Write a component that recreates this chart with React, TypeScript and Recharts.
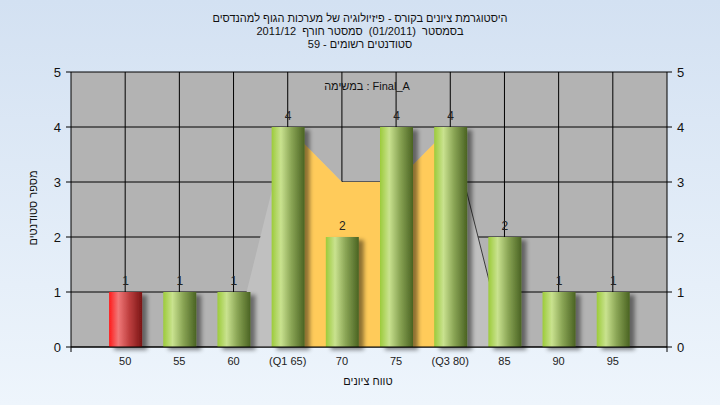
import React from 'react';
import {
    ComposedChart, Bar, Area, XAxis, YAxis, CartesianGrid, LabelList,
} from 'recharts';

// grade buckets and how many students landed in each
const grades = [50, 55, 60, 65, 70, 75, 80, 85, 90, 95];
const tickNames = ['50', '55', '60', '(Q1 65)', '70', '75', '(Q3 80)', '85', '90', '95'];
const counts = [1, 1, 1, 4, 2, 4, 4, 2, 1, 1];
// background shapes: spread (light gray) and quartile box (orange)
const spread = [null, null, 0.05, 4, 3, 3, 4, 0.1, null, null];
const box = [null, null, null, 4, 3, 3, 4, null, null, null];
const edge = [null, null, null, null, null, null, 4, 0.1, null, null];
const failing = [true, false, false, false, false, false, false, false, false, false];

const titleLines = [
    'היסטוגרמת ציונים בקורס - פיזיולוגיה של מערכות הגוף למהנדסים',
    'בסמסטר  (01/2011)  סמסטר חורף  2011/12',
    'סטודנטים רשומים - 59',
];

const FONT = '"Liberation Sans", Arial, sans-serif';

const chartData = grades.map((g, i) => ({
    grade: g,
    name: tickNames[i],
    count: counts[i],
    spread: spread[i],
    box: box[i],
    edge: edge[i],
    failing: failing[i],
}));

const xTicks = [45, ...grades, 100];
const yTicks = [0, 1, 2, 3, 4, 5];

const GradeTick = ({ x, y, payload }: any) => {
    const idx = grades.indexOf(payload.value);
    if (idx < 0) {
        return <line x1={x} x2={x} y1={y} y2={y + 5} stroke="#000" />;
    }
    return (
        <text x={x} y={y + 18} textAnchor="middle" fontSize={11} fill="#222" fontFamily={FONT}>
            {tickNames[idx]}
        </text>
    );
};

const GradientBar = (props: any) => {
    const { x, y, width, height, payload } = props;
    if (!height || height <= 0) return null;
    const grad = payload.failing ? 'url(#redBar)' : 'url(#greenBar)';
    return <rect x={x} y={y} width={width} height={height} fill={grad} filter="url(#barShadow)" />;
};

export default function App() {
    return (
        <div
            style={{
                position: 'fixed', left: 0, top: 0, width: 720, height: 405,
                background: 'linear-gradient(#d3e1f2, #eef5fc)', fontFamily: FONT,
            }}
        >
            <div style={{ position: 'absolute', top: 12, left: 0, width: 720, textAlign: 'center', fontSize: 11, lineHeight: '13px', color: '#111' }} dir="rtl">
                {titleLines.map((t, i) => <div key={i} style={{ whiteSpace: 'pre' }}>{t}</div>)}
            </div>

            <ComposedChart
                width={720}
                height={405}
                data={chartData}
                margin={{ top: 72, right: 0, bottom: 28, left: 0 }}
            >
                <defs>
                    <linearGradient id="greenBar" x1="0" y1="0" x2="1" y2="0">
                        <stop offset="0%" stopColor="#9ccb3a" />
                        <stop offset="28%" stopColor="#c9e28f" />
                        <stop offset="60%" stopColor="#8aa555" />
                        <stop offset="100%" stopColor="#4a6322" />
                    </linearGradient>
                    <linearGradient id="redBar" x1="0" y1="0" x2="1" y2="0">
                        <stop offset="0%" stopColor="#ff1a1a" />
                        <stop offset="28%" stopColor="#f07878" />
                        <stop offset="60%" stopColor="#c04040" />
                        <stop offset="100%" stopColor="#7a1414" />
                    </linearGradient>
                    <filter id="barShadow" x="-20%" y="-10%" width="150%" height="130%">
                        <feDropShadow dx={5} dy={3} stdDeviation={2} floodColor="#000" floodOpacity={0.45} />
                    </filter>
                </defs>
                <CartesianGrid
                    stroke="#000"
                    strokeOpacity={1}
                    fill="#b3b3b3"
                    fillOpacity={1}
                    horizontalValues={yTicks}
                    verticalValues={grades}
                />
                <XAxis
                    dataKey="grade"
                    type="number"
                    domain={[45, 100]}
                    ticks={xTicks}
                    interval={0}
                    height={30}
                    tickLine={false}
                    tickSize={0}
                    tickMargin={0}
                    axisLine={{ stroke: '#000' }}
                    tick={<GradeTick />}
                />
                <YAxis
                    domain={[0, 5]}
                    ticks={yTicks}
                    width={71}
                    tickSize={5}
                    tickMargin={5}
                    axisLine={{ stroke: '#000' }}
                    tickLine={{ stroke: '#000' }}
                    tick={{ fill: '#111', fontSize: 13, fontFamily: FONT }}
                />
                <YAxis
                    yAxisId="right"
                    orientation="right"
                    domain={[0, 5]}
                    ticks={yTicks}
                    width={53}
                    tickSize={5}
                    tickMargin={5}
                    axisLine={{ stroke: '#000' }}
                    tickLine={{ stroke: '#000' }}
                    tick={{ fill: '#111', fontSize: 13, fontFamily: FONT }}
                />
                <Area dataKey="spread" type="linear" fill="#c0c0c0" fillOpacity={1} stroke="none" isAnimationActive={false} connectNulls={false} />
                <Area dataKey="box" type="linear" fill="#ffcb5a" fillOpacity={1} stroke="none" isAnimationActive={false} connectNulls={false} />
                <Area dataKey="edge" type="linear" fill="none" stroke="#3a3a3a" strokeWidth={1} dot={false} activeDot={false} isAnimationActive={false} connectNulls={false} />
                <Bar yAxisId="right" dataKey="count" barSize={33} shape={<GradientBar />} isAnimationActive={false}>
                    <LabelList dataKey="count" position="top" offset={7} fill="#222" fontSize={12} fontFamily={FONT} />
                </Bar>
            </ComposedChart>

            <div style={{ position: 'absolute', top: 80, left: 267, width: 200, textAlign: 'center', fontSize: 11, color: '#111' }}>
                במשימה : Final_A
            </div>
            <div style={{ position: 'absolute', top: 375, left: 268, width: 200, textAlign: 'center', fontSize: 11, color: '#111' }}>
                טווח ציונים
            </div>
            <div
                style={{
                    position: 'absolute', left: 33 - 60, top: 208 - 8, width: 120, height: 16, lineHeight: '16px',
                    textAlign: 'center', fontSize: 11, color: '#111', whiteSpace: 'nowrap',
                    transform: 'rotate(-90deg)',
                }}
            >
                מספר סטודנטים
            </div>
        </div>
    );
}
